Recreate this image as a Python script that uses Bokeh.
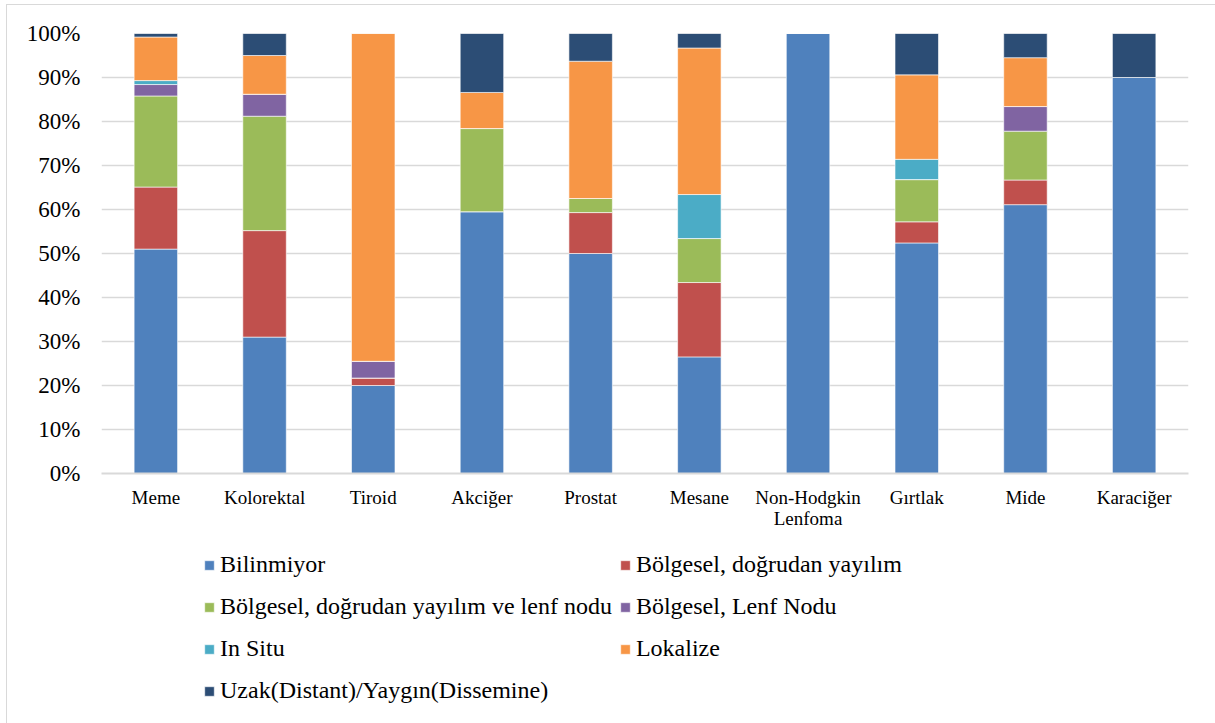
from bokeh.plotting import figure
from bokeh.layouts import column
from bokeh.models import ColumnDataSource, Legend, LegendItem, PrintfTickFormatter, FixedTicker
from bokeh.embed import file_html
from bokeh.resources import INLINE

# Cancer sites and stage distribution (% of cases)
sites = ["Meme", "Kolorektal", "Tiroid", "Akciğer", "Prostat", "Mesane",
         "Non-Hodgkin\nLenfoma", "Gırtlak", "Mide", "Karaciğer"]

bilinmiyor = [51.0, 31.0, 20.0, 59.5, 50.0, 26.5, 100.0, 52.4, 61.1, 90.0]
bolgesel_dogrudan = [14.1, 24.2, 1.7, 0.0, 9.3, 16.9, 0.0, 4.8, 5.6, 0.0]
bolgesel_dogrudan_lenf = [20.7, 26.0, 0.0, 18.9, 3.2, 10.0, 0.0, 9.6, 11.1, 0.0]
bolgesel_lenf = [2.6, 5.0, 3.8, 0.0, 0.0, 0.0, 0.0, 0.0, 5.6, 0.0]
in_situ = [0.9, 0.0, 0.0, 0.0, 0.0, 10.0, 0.0, 4.6, 0.0, 0.0]
lokalize = [9.9, 8.8, 74.5, 8.2, 31.2, 33.3, 0.0, 19.2, 11.1, 0.0]
uzak = [0.8, 5.0, 0.0, 13.4, 6.3, 3.3, 0.0, 9.4, 5.5, 10.0]

series_names = ["Bilinmiyor", "Bölgesel, doğrudan yayılım",
                "Bölgesel, doğrudan yayılım ve lenf nodu", "Bölgesel, Lenf Nodu",
                "In Situ", "Lokalize", "Uzak(Distant)/Yaygın(Dissemine)"]
series_keys = ["bilinmiyor", "bolgesel_dogrudan", "bolgesel_dogrudan_lenf",
               "bolgesel_lenf", "in_situ", "lokalize", "uzak"]
colors = ["#4F81BD", "#C0504D", "#9BBB59", "#8064A2", "#4BACC6", "#F79646", "#2C4D75"]

source = ColumnDataSource(data=dict(
    site=sites,
    bilinmiyor=bilinmiyor,
    bolgesel_dogrudan=bolgesel_dogrudan,
    bolgesel_dogrudan_lenf=bolgesel_dogrudan_lenf,
    bolgesel_lenf=bolgesel_lenf,
    in_situ=in_situ,
    lokalize=lokalize,
    uzak=uzak,
))

FONT = "Liberation Serif"
W = 1208
BAR_STYLE = dict(width=0.4, color=colors, line_color="white", line_width=0.6)

# Main stacked bar chart
p = figure(x_range=sites, y_range=(0, 100), width=W, height=526,
           output_backend="svg", toolbar_location=None,
           min_border_left=94, min_border_right=27, min_border_top=28,
           min_border_bottom=10)

p.vbar_stack(series_keys, x="site", source=source, **BAR_STYLE)

p.outline_line_color = None
p.background_fill_color = "white"
p.border_fill_color = "white"

p.xgrid.grid_line_color = None
p.ygrid.grid_line_color = "#d9d9d9"
p.ygrid.grid_line_width = 1.5

p.yaxis.ticker = FixedTicker(ticks=list(range(0, 101, 10)))
p.yaxis.formatter = PrintfTickFormatter(format="%d%%")
p.yaxis.axis_line_color = None
p.yaxis.major_tick_line_color = None
p.yaxis.minor_tick_line_color = None
p.yaxis.major_label_standoff = 15
p.yaxis.major_label_text_font = FONT
p.yaxis.major_label_text_font_size = "23px"
p.yaxis.major_label_text_color = "black"

p.xaxis.axis_line_color = "#d9d9d9"
p.xaxis.axis_line_width = 2
p.xaxis.major_tick_line_color = None
p.xaxis.minor_tick_line_color = None
p.xaxis.major_label_standoff = 7
p.xaxis.major_label_text_font = FONT
p.xaxis.major_label_text_font_size = "19px"
p.xaxis.major_label_text_line_height = 1.0
p.xaxis.major_label_text_color = "black"

# Legend panel underneath. The same stacks are bound here with a y range
# above 100%, so only their legend swatches show.
lg = figure(x_range=sites, y_range=(150, 151), width=W, height=192,
            output_backend="svg", toolbar_location=None,
            min_border_left=0, min_border_right=0, min_border_top=0, min_border_bottom=0)
lg.axis.visible = False
lg.grid.visible = False
lg.outline_line_color = None
lg.border_fill_color = "white"
lg.background_fill_color = "white"

swatches = lg.vbar_stack(series_keys, x="site", source=source, **BAR_STYLE)
items = [LegendItem(label=name, renderers=[r]) for name, r in zip(series_names, swatches)]
legend = Legend(items=items, location=(102, 15), orientation="horizontal", ncols=2,
                padding=0, margin=0, spacing=7, label_standoff=5,
                glyph_width=12, glyph_height=12, label_height=35,
                label_text_font=FONT, label_text_font_size="24px",
                label_text_color="black",
                border_line_alpha=0, background_fill_alpha=0)
lg.add_layout(legend, "center")

layout = column(p, lg, spacing=0,
                styles={"margin-left": "6px", "margin-top": "4px",
                        "border-left": "1px solid #d9d9d9",
                        "border-top": "1px solid #d9d9d9"})

open("out.html", "w").write(file_html(layout, INLINE))
